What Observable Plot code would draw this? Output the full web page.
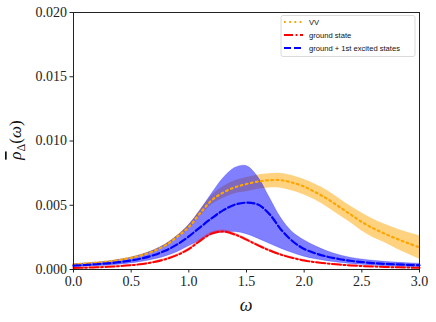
<!DOCTYPE html>
<html>
<head>
<meta charset="utf-8">
<script src="https://cdn.jsdelivr.net/npm/d3@7"></script>
<script src="https://cdn.jsdelivr.net/npm/@observablehq/plot@0.6"></script>
<style>
  html, body { margin: 0; padding: 0; background: #fff; }
  #chart svg { display: block; }
  #chart svg text.ser { font-family: "Liberation Serif", "DejaVu Serif", serif !important; }
</style>
</head>
<body>
<div id="chart"></div>
<script>
const omega = [0.0,0.1,0.2,0.3,0.4,0.5,0.6,0.7,0.8,0.9,1.0,1.1,1.2,1.3,1.4,1.5,1.6,1.7,1.8,1.9,2.0,2.1,2.2,2.3,2.4,2.5,2.6,2.7,2.8,2.9,3.0];

// VV (orange)
const vvMean = [0.00040,0.00046,0.00053,0.00062,0.00075,0.00091,0.00113,0.00145,0.00190,0.00255,0.00330,0.00440,0.00540,0.00600,0.00640,0.00665,0.00685,0.00695,0.00695,0.00675,0.00645,0.00600,0.00550,0.00490,0.00430,0.00370,0.00320,0.00278,0.00240,0.00205,0.00172];
const vvHi   = [0.00043,0.00049,0.00056,0.00065,0.00078,0.00095,0.00118,0.00151,0.00198,0.00265,0.00348,0.00465,0.00575,0.00645,0.00690,0.00715,0.00735,0.00745,0.00748,0.00730,0.00700,0.00662,0.00615,0.00555,0.00495,0.00440,0.00392,0.00352,0.00318,0.00288,0.00262];
const vvLo   = [0.00037,0.00043,0.00050,0.00059,0.00072,0.00087,0.00108,0.00139,0.00182,0.00243,0.00312,0.00415,0.00505,0.00555,0.00590,0.00605,0.00625,0.00635,0.00632,0.00610,0.00580,0.00538,0.00485,0.00425,0.00365,0.00300,0.00248,0.00208,0.00162,0.00120,0.00080];

// ground + 1st excited states (blue)
const exMean = [0.00030,0.00035,0.00041,0.00048,0.00057,0.00070,0.00088,0.00113,0.00148,0.00196,0.00258,0.00330,0.00400,0.00462,0.00505,0.00520,0.00505,0.00430,0.00310,0.00220,0.00160,0.00125,0.00100,0.00082,0.00068,0.00058,0.00050,0.00044,0.00040,0.00036,0.00033];
const exHi   = [0.00040,0.00046,0.00053,0.00062,0.00075,0.00092,0.00117,0.00150,0.00195,0.00260,0.00345,0.00460,0.00590,0.00710,0.00790,0.00805,0.00720,0.00560,0.00400,0.00290,0.00228,0.00180,0.00142,0.00113,0.00092,0.00078,0.00068,0.00060,0.00054,0.00049,0.00045];
const exLo   = [0.00018,0.00021,0.00025,0.00030,0.00037,0.00047,0.00060,0.00078,0.00102,0.00135,0.00180,0.00225,0.00270,0.00288,0.00292,0.00275,0.00240,0.00200,0.00162,0.00128,0.00100,0.00080,0.00064,0.00052,0.00043,0.00036,0.00030,0.00026,0.00022,0.00019,0.00017];

// ground state (red)
const gsMean = [0.00012,0.00014,0.00017,0.00021,0.00026,0.00033,0.00043,0.00058,0.00080,0.00112,0.00158,0.00225,0.00280,0.00295,0.00272,0.00232,0.00188,0.00148,0.00115,0.00090,0.00070,0.00056,0.00046,0.00038,0.00032,0.00027,0.00023,0.00020,0.00017,0.00015,0.00013];
const gsHi   = [0.00016,0.00018,0.00021,0.00025,0.00030,0.00038,0.00048,0.00064,0.00087,0.00120,0.00167,0.00236,0.00292,0.00308,0.00285,0.00244,0.00198,0.00157,0.00123,0.00097,0.00076,0.00061,0.00051,0.00042,0.00036,0.00031,0.00026,0.00023,0.00020,0.00018,0.00016];
const gsLo   = [0.00008,0.00010,0.00013,0.00017,0.00022,0.00028,0.00038,0.00052,0.00073,0.00104,0.00149,0.00214,0.00268,0.00282,0.00259,0.00220,0.00178,0.00139,0.00107,0.00083,0.00064,0.00051,0.00041,0.00034,0.00028,0.00023,0.00020,0.00017,0.00014,0.00012,0.00010];

const xTicks = [0, 0.5, 1.0, 1.5, 2.0, 2.5, 3.0];
const yTicks = [0, 0.005, 0.010, 0.015, 0.020];
const seriesNames = ["VV", "ground state", "ground + 1st excited states"];

const rows = (mean, lo, hi) => omega.map((w, i) => ({w, m: mean[i], lo: lo[i], hi: hi[i]}));
const vv = rows(vvMean, vvLo, vvHi);
const ex = rows(exMean, exLo, exHi);
const gs = rows(gsMean, gsLo, gsHi);

const serif = "Liberation Serif";
const sans = "Liberation Sans, DejaVu Sans, sans-serif";
const curve = "catmull-rom";
const dotDash = "1.8,3.4", dashDot = "9,2.6,1.8,2.6", dashed = "7,3";

const plot = Plot.plot({
  width: 436,
  height: 322,
  marginLeft: 73,
  marginRight: 17,
  marginTop: 12,
  marginBottom: 53,
  style: {background: "white", fontFamily: serif, fontSize: "14px"},
  x: {domain: [0, 3], label: null},
  y: {domain: [0, 0.02], label: null},
  marks: [
    Plot.areaY(vv, {x: "w", y1: "lo", y2: "hi", fill: "orange", fillOpacity: 0.5, curve}),
    Plot.areaY(ex, {x: "w", y1: "lo", y2: "hi", fill: "blue", fillOpacity: 0.5, stroke: "blue", strokeOpacity: 0.25, strokeWidth: 0.8, curve}),
    Plot.areaY(gs, {x: "w", y1: "lo", y2: "hi", fill: "red", fillOpacity: 0.3, curve}),
    Plot.lineY(vv, {x: "w", y: "m", stroke: "orange", strokeWidth: 2.2, strokeDasharray: dotDash, curve}),
    Plot.lineY(gs, {x: "w", y: "m", stroke: "red", strokeWidth: 2, strokeDasharray: dashDot, curve}),
    Plot.lineY(ex, {x: "w", y: "m", stroke: "blue", strokeWidth: 2.2, strokeDasharray: dashed, curve}),
    Plot.frame({stroke: "#222", strokeWidth: 1}),
    Plot.axisX({ticks: xTicks, tickFormat: d3.format(".1f"), tickSize: 3.5, tickPadding: 3, fontSize: 14, label: null, stroke: "#222"}),
    Plot.axisY({ticks: yTicks, tickFormat: d3.format(".3f"), tickSize: 3.5, tickPadding: 3, fontSize: 14, label: null, stroke: "#222"})
  ]
});

document.getElementById("chart").appendChild(plot);

const svg = d3.select(plot);
svg.selectAll("text").classed("ser", true).attr("fill", "#222");

// x label
svg.append("text")
  .classed("ser", true)
  .attr("x", 246).attr("y", 311)
  .attr("text-anchor", "middle")
  .attr("font-style", "italic").attr("font-size", 18)
  .attr("fill", "#111")
  .text("ω");

// y label
const yl = svg.append("text")
  .classed("ser", true)
  .attr("transform", "translate(21,140) rotate(-90)")
  .attr("text-anchor", "middle")
  .attr("font-size", 17)
  .attr("fill", "#111");
yl.append("tspan").attr("font-style", "italic").style("text-decoration", "overline").text("ρ");
yl.append("tspan").attr("font-size", 12).attr("dy", 4).text("Δ");
yl.append("tspan").attr("dy", -4).text("(");
yl.append("tspan").attr("font-style", "italic").text("ω");
yl.append("tspan").text(")");

// legend
const lg = svg.append("g");
lg.append("rect").attr("x", 281).attr("y", 15.5).attr("width", 134).attr("height", 41)
  .attr("rx", 2).attr("fill", "white").attr("fill-opacity", 0.8).attr("stroke", "#d0d0d0").attr("stroke-width", 0.8);
const legStyles = [
  {stroke: "orange", dash: dotDash},
  {stroke: "red", dash: dashDot},
  {stroke: "blue", dash: dashed}
];
seriesNames.forEach((name, i) => {
  const y = 22 + i * 13;
  lg.append("line").attr("x1", 284).attr("x2", 303).attr("y1", y).attr("y2", y)
    .attr("stroke", legStyles[i].stroke).attr("stroke-width", 2).attr("stroke-dasharray", legStyles[i].dash);
  lg.append("text").attr("x", 309).attr("y", y + 2.5)
    .attr("text-anchor", "start")
    .attr("font-family", sans).attr("font-size", 7.6).attr("fill", "#111")
    .text(name);
});
</script>
</body>
</html>
